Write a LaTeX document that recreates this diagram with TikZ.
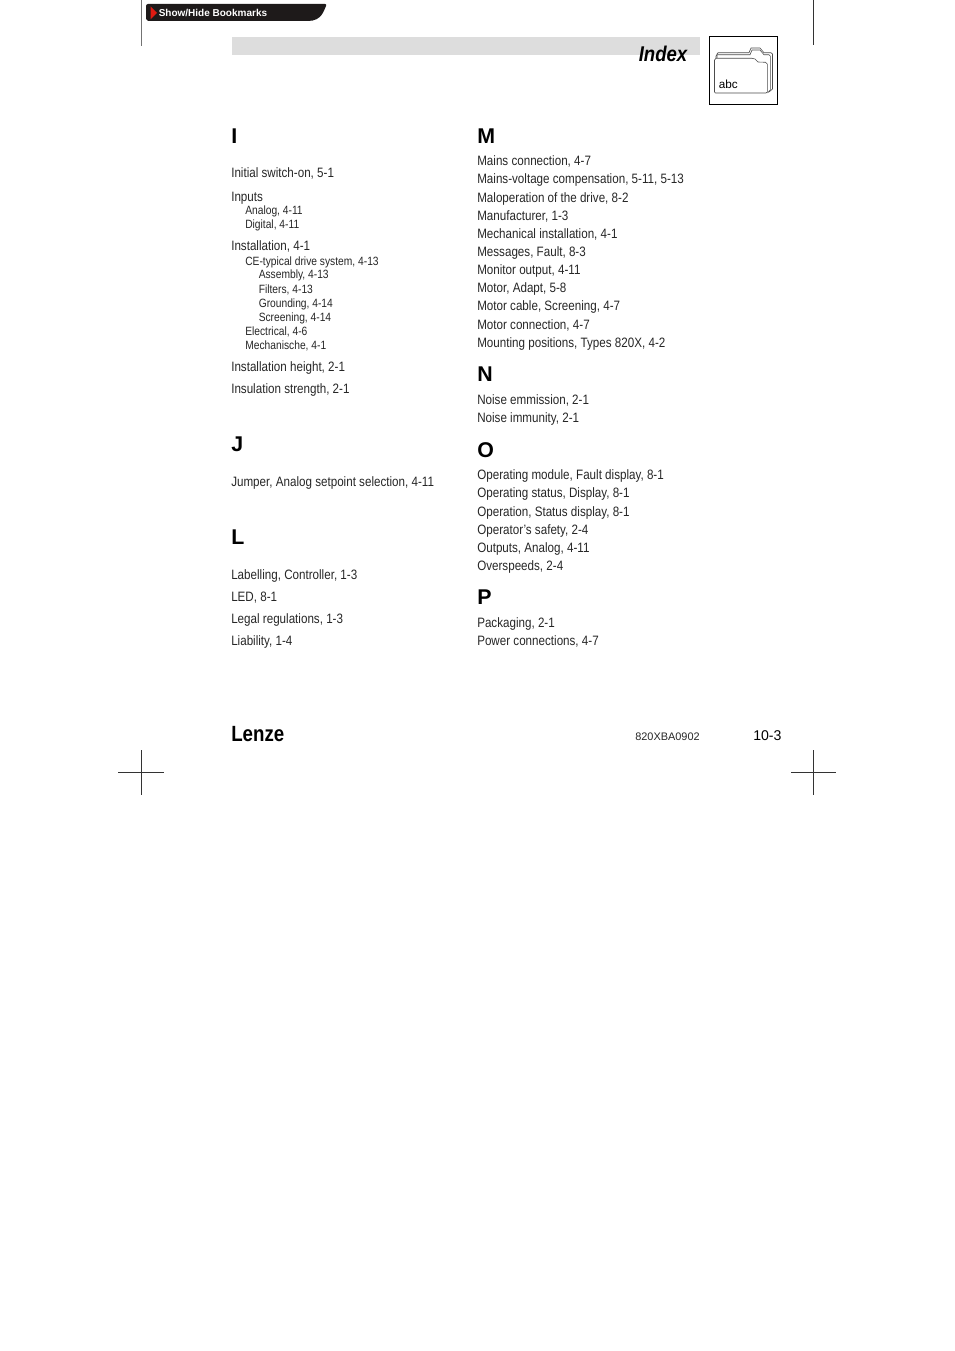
\documentclass[tikz,border=0pt]{standalone}
\usepackage{fontspec}
\setmainfont[FakeStretch=0.855]{Liberation Sans}
\newfontfamily\headfont{Liberation Sans}
\newfontfamily\logofont[FakeStretch=0.85]{Liberation Sans}
\definecolor{barcol}{HTML}{DDDDDD}
\definecolor{tabcol}{HTML}{1E1A1A}
\definecolor{txtcol}{HTML}{262626}
\definecolor{arrowcol}{HTML}{E01B12}
\tikzset{
	entry/.style={anchor=base west,inner sep=0pt,yshift=-0.4pt,text=txtcol,font=\fontsize{10.2}{12}\selectfont},
	subentry/.style={anchor=base west,inner sep=0pt,yshift=-0.4pt,text=txtcol,font=\fontsize{9}{10}\selectfont},
	letter/.style={anchor=base west,inner sep=0pt,font=\headfont\bfseries\fontsize{16}{18}\selectfont},
	crop/.style={line width=0.6pt,black!80},
	folder/.style={line width=0.45pt,black!70}
}
\begin{document}
\begin{tikzpicture}[x=0.75pt,y=-0.75pt]
	\useasboundingbox (0,0) rectangle (954,1351);

	% top of the page
	\draw[crop,black!55] (141.5,0) -- (141.5,46);
	\draw[crop] (813.5,0) -- (813.5,45);
	\fill[tabcol] (146,6) [rounded corners=1.5pt] -- (146,4) -- (327,4) [sharp corners] .. controls (324,10) and (322,21) .. (308,21) -- (148,21) -- (146,19) -- cycle;
	\fill[arrowcol] (150.5,6.5) -- (157,13) -- (150.5,19.5) -- cycle;
	\node[anchor=base west,inner sep=0pt,text=white,font=\headfont\bfseries\fontsize{7.5}{8}\selectfont] (bookmarks) at (158.5,16.3) {Show/Hide Bookmarks};

	\fill[barcol] (232,37) rectangle (700,55);
	\node[anchor=base east,inner sep=0pt,font=\headfont\bfseries\itshape\fontsize{16}{18}\selectfont,xscale=0.87] (title) at (687.5,61.5) {Index};

	% folder box
	\draw[line width=0.8pt] (709.5,36.5) rectangle (777.5,104.5);
	\draw[folder] (717,58) -- (717,54) -- (718,52.8) -- (749,52.8) -- (751,48) -- (760,48) -- (764,52.8) -- (771,52.8) -- (772.5,54) -- (772.5,89) -- (769,92);
	\draw[folder] (716,58) -- (716,56) -- (717,54.8) -- (750,54.8) -- (752,50) -- (760,50) -- (764,54.8) -- (769,54.8) -- (770.3,56) -- (770.3,90) -- (767.5,93);
	\draw[folder,fill=white] (714.5,60) -- (716,58.3) -- (752,58.3) -- (755,59) -- (758,62) -- (765.5,62.3) -- (767.3,64) -- (767.3,92) -- (766,93) -- (715.5,93) -- (714.5,92) -- cycle;
	\node[anchor=base west,inner sep=0pt,font=\headfont\fontsize{8.8}{10}\selectfont] (abc) at (718.5,89) {abc};

	% left column
	\node[letter] (I) at (231,143.2) {I};
	\node[letter] (J) at (231,451.2) {J};
	\node[letter] (L) at (231,544.2) {L};
	\foreach \y/\txt [count=\i] in {177/{Initial switch-on, 5-1},201/Inputs,250/{Installation, 4-1},371/{Installation height, 2-1},393/{Insulation strength, 2-1},486/{Jumper, Analog setpoint selection, 4-11},579/{Labelling, Controller, 1-3},601/{LED, 8-1},623/{Legal regulations, 1-3},645/{Liability, 1-4}}
		\node[entry] (left\i) at (231,\y) {\txt};
	\foreach \y/\txt [count=\i] in {214/{Analog, 4-11},228/{Digital, 4-11},265/{CE-typical drive system, 4-13},335/{Electrical, 4-6},349/{Mechanische, 4-1}}
		\node[subentry] (sub\i) at (245,\y) {\txt};
	\foreach \y/\txt [count=\i] in {278/{Assembly, 4-13},293/{Filters, 4-13},307/{Grounding, 4-14},321/{Screening, 4-14}}
		\node[subentry] (subsub\i) at (258.5,\y) {\txt};

	% right column
	\node[letter] (M) at (477,143.2) {M};
	\node[letter] (N) at (477,381.2) {N};
	\node[letter] (O) at (477,457.2) {O};
	\node[letter] (P) at (477,604.2) {P};
	\foreach \y/\txt [count=\i] in {165/{Mains connection, 4-7},183/{Mains-voltage compensation, 5-11, 5-13},202/{Maloperation of the drive, 8-2},220/{Manufacturer, 1-3},238/{Mechanical installation, 4-1},256/{Messages, Fault, 8-3},274/{Monitor output, 4-11},292/{Motor, Adapt, 5-8},310/{Motor cable, Screening, 4-7},329/{Motor connection, 4-7},347/{Mounting positions, Types 820X, 4-2},404/{Noise emmission, 2-1},422/{Noise immunity, 2-1},479/{Operating module, Fault display, 8-1},497/{Operating status, Display, 8-1},516/{Operation, Status display, 8-1},534/{Operator's safety, 2-4},552/{Outputs, Analog, 4-11},570/{Overspeeds, 2-4},627/{Packaging, 2-1},645/{Power connections, 4-7}}
		\node[entry] (right\i) at (477,\y) {\txt};

	% foot of the page
	\node[anchor=base west,inner sep=0pt,font=\logofont\bfseries\fontsize{16.5}{18}\selectfont] (logo) at (231,741) {Lenze};
	\node[anchor=base west,inner sep=0pt,text=txtcol,font=\headfont\fontsize{8.2}{10}\selectfont] (code) at (635,740) {820XBA0902};
	\node[anchor=base west,inner sep=0pt,font=\headfont\fontsize{10.6}{12}\selectfont] (pageno) at (753,740) {10-3};

	\draw[crop] (118,772.5) -- (163.5,772.5);
	\draw[crop] (141.5,750) -- (141.5,795);
	\draw[crop] (791,772.5) -- (836,772.5);
	\draw[crop] (813.5,750) -- (813.5,795);
\end{tikzpicture}
\end{document}
